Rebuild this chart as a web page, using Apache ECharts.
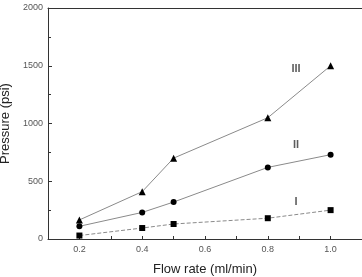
<!DOCTYPE html>
<html>
<head>
<meta charset="utf-8">
<script src="https://cdn.jsdelivr.net/npm/echarts@6/dist/echarts.min.js"></script>
<style>
  html, body { margin: 0; padding: 0; background: #fff; }
  #main { width: 362px; height: 277px; }
</style>
</head>
<body>
<div id="main"></div>
<script>
var flowRate = [0.2, 0.4, 0.5, 0.8, 1.0];
var pressI = [30, 95, 130, 180, 250];
var pressII = [110, 230, 320, 620, 730];
var pressIII = [165, 410, 700, 1050, 1500];
var seriesNames = ['I', 'II', 'III'];
var labelPos = [[0.89, 320], [0.89, 810], [0.89, 1470]];

function pairs(ys){
  return flowRate.map(function(x, i){ return [x, ys[i]]; });
}

var chart = echarts.init(document.getElementById('main'));
var lineColor = '#8a8a8a';
var axisColor = '#333';

function mkSeries(name, ys, symbol, size, dash){
  return {
    name: name,
    type: 'line',
    data: pairs(ys),
    symbol: symbol,
    symbolSize: size,
    itemStyle: { color: '#000' },
    lineStyle: { color: lineColor, width: 1, type: dash },
    z: 3
  };
}

var option = {
  animation: false,
  grid: { left: 48, top: 8, right: 0, bottom: 38, outerBoundsMode: 'none', containLabel: false },
  xAxis: [{
    type: 'value',
    min: 0.1,
    max: 1.1,
    interval: 0.1,
    name: 'Flow rate (ml/min)',
    nameLocation: 'middle',
    nameGap: 24,
    nameTextStyle: { fontFamily: 'Arial, Liberation Sans', fontSize: 13, color: '#222' },
    axisLine: { lineStyle: { color: axisColor, width: 1 } },
    axisTick: { inside: true, length: 3, lineStyle: { color: axisColor } },
    axisLabel: {
      fontFamily: 'Arial, Liberation Sans', fontSize: 9, color: '#555', margin: 6,
      formatter: function(v){
        var k = Math.round(v * 10);
        if (k % 2 !== 0) return '';
        return (k / 10).toFixed(1);
      }
    },
    splitLine: { show: false }
  }, {
    type: 'value',
    position: 'top',
    min: 0.1,
    max: 1.1,
    axisLine: { show: true, onZero: false, lineStyle: { color: axisColor, width: 1 } },
    axisTick: { show: false },
    axisLabel: { show: false },
    splitLine: { show: false }
  }],
  yAxis: {
    type: 'value',
    min: 0,
    max: 2000,
    interval: 500,
    name: 'Pressure (psi)',
    nameLocation: 'middle',
    nameGap: 34,
    nameTextStyle: { fontFamily: 'Arial, Liberation Sans', fontSize: 13, color: '#222' },
    axisLine: { show: true, lineStyle: { color: axisColor, width: 1 } },
    axisTick: { inside: true, length: 4, lineStyle: { color: axisColor } },
    minorTick: { show: true, splitNumber: 2, length: 3, lineStyle: { color: axisColor } },
    axisLabel: {
      fontFamily: 'Arial, Liberation Sans', fontSize: 9, color: '#555', margin: 5,
      formatter: function(v){ return String(v); }
    },
    splitLine: { show: false }
  },
  series: [
    mkSeries('I', pressI, 'rect', 6, [4, 2]),
    mkSeries('II', pressII, 'circle', 6, 'solid'),
    mkSeries('III', pressIII, 'triangle', 7, 'solid'),
    {
      type: 'scatter',
      symbolSize: 0,
      data: labelPos.map(function(p, i){ return { value: p, name: seriesNames[i] }; }),
      label: {
        show: true,
        position: 'inside',
        formatter: '{b}',
        fontFamily: 'Arial, Liberation Sans',
        fontWeight: 'bold',
        fontSize: 11,
        color: '#333'
      },
      silent: true
    }
  ]
};
chart.setOption(option);
</script>
</body>
</html>
